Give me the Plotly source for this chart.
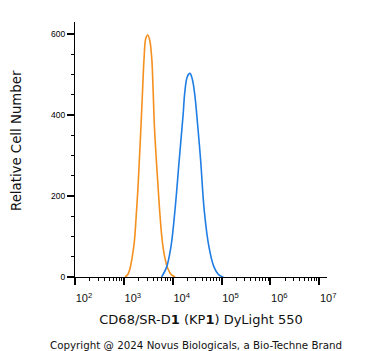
import plotly.graph_objects as go

# Isotype control (orange) histogram: log10 intensity vs relative cell count
orange_log_x = [3.025, 3.08, 3.127, 3.17, 3.215, 3.25, 3.285, 3.32, 3.352, 3.385, 3.414, 3.45, 3.49,
                3.53, 3.572, 3.60, 3.625, 3.665, 3.707, 3.745, 3.789, 3.84, 3.90, 3.97, 4.049]
orange_counts = [0, 6, 21, 48, 87, 145, 211, 295, 375, 465, 540, 590, 598,
                 585, 540, 460, 375, 290, 211, 145, 87, 48, 21, 6, 0]

# CD68 stained (blue) histogram
blue_log_x = [3.774, 3.877, 3.965, 4.047, 4.134, 4.216, 4.245, 4.30, 4.353, 4.40, 4.450,
              4.491, 4.572, 4.646, 4.742, 4.845, 4.94, 5.035]
blue_counts = [0, 25, 75, 165, 289, 404, 453, 495, 503, 490, 453,
               404, 289, 165, 75, 25, 6, 0]

x_tick_exponents = [2, 3, 4, 5, 6, 7]
x_tick_labels = ["10<sup>2</sup>", "10<sup>3</sup>", "10<sup>4</sup>",
                 "10<sup>5</sup>", "10<sup>6</sup>", "10<sup>7</sup>"]
y_tick_vals = [0, 200, 400, 600]

FONT = "DejaVu Sans, Liberation Sans, Arial"

fig = go.Figure()
fig.add_trace(go.Scatter(x=[10 ** v for v in orange_log_x], y=orange_counts, mode="lines",
                         line=dict(color="#F5901E", width=1.6, shape="spline"),
                         showlegend=False, hoverinfo="skip"))
fig.add_trace(go.Scatter(x=[10 ** v for v in blue_log_x], y=blue_counts, mode="lines",
                         line=dict(color="#1F7DE3", width=1.6, shape="spline"),
                         showlegend=False, hoverinfo="skip"))

minor_x = [m * 10 ** e for e in range(2, 7) for m in range(2, 10)]

fig.update_xaxes(
    type="log", range=[2, 7.16],
    tickmode="array", tickvals=[10 ** e for e in x_tick_exponents], ticktext=x_tick_labels,
    ticks="outside", ticklen=7, tickwidth=1.5, tickcolor="black",
    ticklabelshift=9, ticklabelstandoff=4,
    minor=dict(tickmode="array", tickvals=minor_x, ticks="outside", ticklen=3,
               tickwidth=1, tickcolor="black", showgrid=False),
    showline=True, linecolor="black", linewidth=1.2,
    showgrid=False, zeroline=False,
    tickfont=dict(family="Liberation Sans, Arial", size=11, color="#111"),
    title=dict(text="CD68/SR-D<b>1</b> (KP<b>1</b>) DyLight 550", standoff=11,
               font=dict(family=FONT, size=13, color="#111")),
)
fig.update_yaxes(
    range=[0, 630],
    tickmode="array", tickvals=y_tick_vals, ticktext=[str(v) for v in y_tick_vals],
    ticks="outside", ticklen=7, tickwidth=1.5, tickcolor="black",
    minor=dict(dtick=50, ticks="outside", ticklen=3, tickwidth=1, tickcolor="black", showgrid=False),
    showline=True, linecolor="black", linewidth=1.2,
    showgrid=False, zeroline=False,
    tickfont=dict(family="Liberation Sans, Arial", size=8.5, color="#000"),
)

# y-axis title placed as annotation to match reference position
fig.add_annotation(text="Relative Cell Number", textangle=-90,
                   xref="paper", yref="paper", x=(16 - 75) / 252, y=(277 - 141) / 255,
                   xanchor="center", yanchor="middle", showarrow=False,
                   font=dict(family=FONT, size=13.3, color="#111"))

fig.add_annotation(text="Copyright @ 2024 Novus Biologicals, a Bio-Techne Brand",
                   xref="paper", yref="paper", x=0.48, y=-0.265, yanchor="middle",
                   showarrow=False,
                   font=dict(family=FONT, size=10.3, color="#111"))

fig.update_layout(
    width=371, height=351,
    margin=dict(l=75, r=44, t=22, b=74),
    paper_bgcolor="white", plot_bgcolor="white",
)

fig.write_html("out.html")
